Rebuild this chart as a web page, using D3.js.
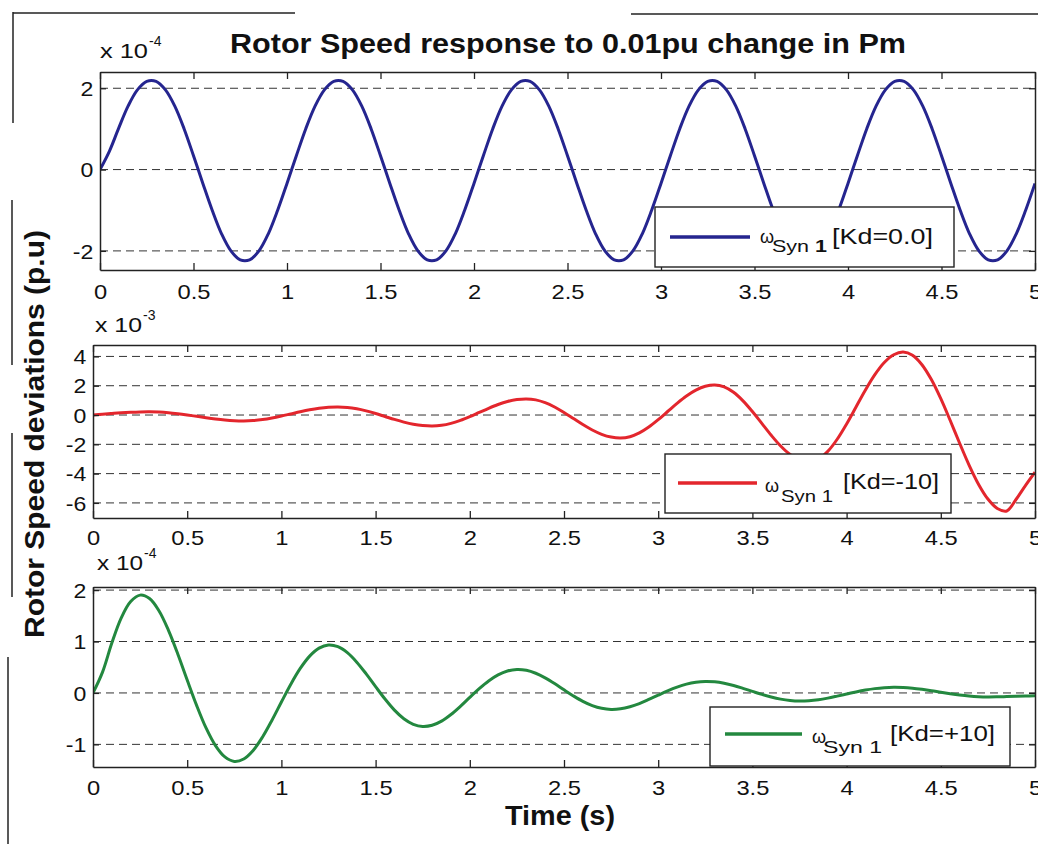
<!DOCTYPE html>
<html><head><meta charset="utf-8">
<script src="https://cdn.jsdelivr.net/npm/d3@7"></script>
<style>body{margin:0;background:#fff} svg{display:block}</style>
</head><body>
<svg id="chart" width="1038" height="844"></svg>
<script>
// ---------- DATA ----------
const chartTitle = "Rotor Speed response to 0.01pu change in Pm";
const xAxisTitle = "Time (s)";
const yAxisTitle = "Rotor Speed deviations (p.u)";
const xTicks = [0, 0.5, 1, 1.5, 2, 2.5, 3, 3.5, 4, 4.5, 5];
const yTicksTop = [-2, 0, 2];
const yTicksMid = [-6, -4, -2, 0, 2, 4];
const yTicksBot = [-1, 0, 1, 2];
const exponents = ["-4", "-3", "-4"];
const legendLabels = ["[Kd=0.0]", "[Kd=-10]", "[Kd=+10]"];
// sample times (s), 0.05 s grid
const time = d3.range(0, 101).map(i => +(i * 0.05).toFixed(2));
// rotor speed deviation, Kd = 0.0   (x 1e-4)
const speedKd0 = [0,
 0.45,1.02,1.56,1.96,2.17,2.17,1.96,1.56,1.0,0.34,-0.34,-1.0,-1.58,-2.0,-2.22,-2.22,-2.0,-1.58,-1.0,-0.34,
 0.34,1.0,1.56,1.96,2.17,2.17,1.96,1.56,1.0,0.34,-0.34,-1.0,-1.58,-2.0,-2.22,-2.22,-2.0,-1.58,-1.0,-0.34,
 0.34,1.0,1.56,1.96,2.17,2.17,1.96,1.56,1.0,0.34,-0.34,-1.0,-1.58,-2.0,-2.22,-2.22,-2.0,-1.58,-1.0,-0.34,
 0.34,1.0,1.56,1.96,2.17,2.17,1.96,1.56,1.0,0.34,-0.34,-1.0,-1.58,-2.0,-2.22,-2.22,-2.0,-1.58,-1.0,-0.34,
 0.34,1.0,1.56,1.96,2.17,2.17,1.96,1.56,1.0,0.34,-0.34,-1.0,-1.58,-2.0,-2.22,-2.22,-2.0,-1.58,-1.0,-0.34];
// rotor speed deviation, Kd = -10   (x 1e-3)
const speedKdNeg = [0,0.057,0.11,0.156,0.19,0.213,0.22,0.205,0.161,0.092,0.006,-0.09,-0.186,-0.272,-0.341,-0.385,-0.4,-0.377,-0.309,-0.204,-0.072,
 0.075,0.222,0.354,0.459,0.527,0.55,0.518,0.426,0.282,0.101,-0.1,-0.301,-0.482,-0.626,-0.718,-0.75,-0.705,-0.573,-0.369,-0.111,
 0.175,0.461,0.719,0.923,1.055,1.1,1.035,0.845,0.55,0.178,-0.235,-0.648,-1.02,-1.315,-1.505,-1.57,-1.481,-1.224,-0.824,-0.319,
 0.24,0.799,1.304,1.704,1.961,2.05,1.921,1.549,0.968,0.236,-0.575,-1.386,-2.118,-2.699,-3.071,-3.2,-3.016,-2.484,-1.654,-0.609,
 0.55,1.709,2.754,3.584,4.116,4.3,4.079,3.435,2.419,1.114,-0.375,-1.925,-3.414,-4.719,-5.735,-6.38,-6.55,-5.75,-4.8,-3.9];
// rotor speed deviation, Kd = +10   (x 1e-4)
const speedKdPos = [0,0.4,0.972,1.461,1.777,1.902,1.835,1.597,1.222,0.758,0.251,-0.242,-0.681,-1.023,-1.244,-1.331,-1.284,-1.118,-0.856,-0.530,-0.176,
 0.170,0.476,0.716,0.871,0.932,0.899,0.783,0.599,0.371,0.123,-0.119,-0.334,-0.501,-0.610,-0.652,-0.629,-0.548,-0.419,-0.260,-0.086,
 0.083,0.233,0.351,0.427,0.457,0.441,0.383,0.293,0.182,0.060,-0.058,-0.164,-0.246,-0.299,-0.320,-0.308,-0.268,-0.206,-0.127,-0.042,
 0.041,0.114,0.172,0.209,0.224,0.216,0.188,0.144,0.089,0.030,-0.028,-0.080,-0.120,-0.146,-0.157,-0.151,-0.132,-0.101,-0.062,-0.021,
 0.020,0.056,0.084,0.102,0.110,0.106,0.092,0.070,0.044,0.014,-0.014,-0.039,-0.059,-0.072,-0.077,-0.075,-0.07,-0.065,-0.06,-0.055];

// ---------- LAYOUT / STYLE ----------
const FONT = "'Liberation Sans', Arial, Helvetica, sans-serif";
const panels = [
 {series: speedKd0, color: "#25258f", x0:100, x1:1035, y0:72, y1:270, yDomain:[-2.47, 2.4], yTicks: yTicksTop, xLab:29,
  exp:{x:100, base:58, w:48}, boldOne:true,
  leg:{x:655, y:207, w:299, h:60, lx1:670, lx2:750, ly:237, wx:760, wb:243, sx:772, sb:252, sw:55, kx:832, kb:244, kw:101}},
 {series: speedKdNeg, color: "#e3262d", x0:93, x1:1035, y0:345, y1:518, yDomain:[-7.03, 4.78], yTicks: yTicksMid, xLab:27,
  exp:{x:95, base:332, w:47}, boldOne:false,
  leg:{x:665, y:454, w:286, h:59, lx1:678, lx2:757, ly:483, wx:765, wb:492, sx:781, sb:502, sw:52, kx:843, kb:489, kw:96}},
 {series: speedKdPos, color: "#23883f", x0:93, x1:1035, y0:587, y1:767, yDomain:[-1.44, 2.06], yTicks: yTicksBot, xLab:28,
  exp:{x:97, base:570, w:46}, boldOne:false,
  leg:{x:710, y:707, w:300, h:59, lx1:725, lx2:802, ly:734, wx:812, wb:743, sx:823, sb:753, sw:59, kx:890, kb:741, kw:105}}
];

const svg = d3.select("#chart").style("font-family", FONT);
svg.append("rect").attr("width", 1038).attr("height", 844).attr("fill", "#fff");

// scanned-frame edge lines
const frame = [[13,12,13,123],[13,13,295,13],[631,14,1038,14],[12,200,12,365],[12,433,12,597],[8,657,8,844]];
svg.selectAll("line.frame").data(frame).join("line").attr("class","frame")
  .attr("x1", d=>d[0]).attr("y1", d=>d[1]).attr("x2", d=>d[2]).attr("y2", d=>d[3])
  .attr("stroke", "#222").attr("stroke-width", 1.5);

panels.forEach((p, i) => {
  const x = d3.scaleLinear().domain([0, 5]).range([p.x0, p.x1]);
  const y = d3.scaleLinear().domain(p.yDomain).range([p.y1, p.y0]);
  const g = svg.append("g");

  // dashed grid
  g.selectAll("line.grid").data(p.yTicks).join("line").attr("class", "grid")
    .attr("x1", p.x0).attr("x2", p.x1).attr("y1", d => y(d)).attr("y2", d => y(d))
    .attr("stroke", "#333").attr("stroke-width", 1).attr("stroke-dasharray", "8,5");

  // curve
  const clipId = "clip" + i;
  svg.append("clipPath").attr("id", clipId).append("rect")
    .attr("x", p.x0).attr("y", p.y0 - 4).attr("width", p.x1 - p.x0).attr("height", p.y1 - p.y0 + 4);
  const line = d3.line().x((d, k) => x(time[k])).y(d => y(d)).curve(d3.curveCatmullRom.alpha(0.5));
  g.append("path").datum(p.series).attr("clip-path", `url(#${clipId})`)
    .attr("d", line).attr("fill", "none").attr("stroke", p.color).attr("stroke-width", 3)
    .attr("stroke-linejoin", "round");

  // axes (box with inward ticks)
  const styleAxis = sel => {
    sel.selectAll("path.domain").attr("stroke", "#222").attr("stroke-width", 1.5);
    sel.selectAll(".tick line").attr("stroke", "#222").attr("stroke-width", 1.3);
  };
  const bottom = g.append("g").attr("transform", `translate(0,${p.y1})`)
    .call(d3.axisBottom(x).tickValues(xTicks).tickFormat(d => String(d)).tickSizeInner(-7).tickSizeOuter(0));
  bottom.selectAll("text").attr("y", p.xLab).attr("dy", null)
    .attr("font-size", 21).attr("font-family", FONT).attr("fill", "#111")
    .attr("transform", "scale(1.13,1)");
  styleAxis(bottom);
  const top = g.append("g").attr("transform", `translate(0,${p.y0})`)
    .call(d3.axisTop(x).tickValues(xTicks).tickFormat("").tickSizeInner(-7).tickSizeOuter(0));
  styleAxis(top);
  const left = g.append("g").attr("transform", `translate(${p.x0},0)`)
    .call(d3.axisLeft(y).tickValues(p.yTicks).tickFormat(d => String(d)).tickSizeInner(-6).tickSizeOuter(0).tickPadding(6));
  left.selectAll("text").attr("font-size", 21).attr("font-family", FONT).attr("fill", "#111")
    .attr("dy", "0.34em").attr("transform", "scale(1.1,1)");
  styleAxis(left);
  const right = g.append("g").attr("transform", `translate(${p.x1},0)`)
    .call(d3.axisRight(y).tickValues(p.yTicks).tickFormat("").tickSizeInner(-6).tickSizeOuter(0));
  styleAxis(right);

  // exponent label
  const ex = g.append("g");
  ex.append("text").attr("x", p.exp.x).attr("y", p.exp.base).attr("font-size", 20)
    .attr("textLength", p.exp.w).attr("lengthAdjust", "spacingAndGlyphs").attr("fill", "#111").text("x 10");
  ex.append("text").attr("x", p.exp.x + p.exp.w + 1).attr("y", p.exp.base - 12).attr("font-size", 14)
    .attr("fill", "#111").text(exponents[i]);

  // legend
  const L = p.leg;
  const lg = g.append("g");
  lg.append("rect").attr("x", L.x).attr("y", L.y).attr("width", L.w).attr("height", L.h)
    .attr("fill", "#fff").attr("stroke", "#222").attr("stroke-width", 1.4);
  lg.append("line").attr("x1", L.lx1).attr("x2", L.lx2).attr("y1", L.ly).attr("y2", L.ly)
    .attr("stroke", p.color).attr("stroke-width", 3.5);
  lg.append("text").attr("x", L.wx).attr("y", L.wb).attr("font-size", 18).attr("fill", "#111").text("ω");
  const sub = lg.append("text").attr("x", L.sx).attr("y", L.sb).attr("font-size", 17).attr("fill", "#111")
    .attr("textLength", L.sw).attr("lengthAdjust", "spacingAndGlyphs");
  sub.append("tspan").text("Syn ");
  sub.append("tspan").attr("font-weight", p.boldOne ? "bold" : "normal").text("1");
  lg.append("text").attr("x", L.kx).attr("y", L.kb).attr("font-size", 22).attr("fill", "#111")
    .attr("textLength", L.kw).attr("lengthAdjust", "spacingAndGlyphs").text(legendLabels[i]);
});

// titles
svg.append("text").attr("x", 230).attr("y", 53).attr("font-size", 27).attr("font-weight", "bold")
  .attr("fill", "#111").attr("textLength", 676).attr("lengthAdjust", "spacingAndGlyphs").text(chartTitle);
svg.append("text").attr("x", 505).attr("y", 825).attr("font-size", 27).attr("font-weight", "bold")
  .attr("fill", "#111").attr("textLength", 110).attr("lengthAdjust", "spacingAndGlyphs").text(xAxisTitle);
svg.append("text").attr("transform", "translate(44,638) rotate(-90)").attr("x", 0).attr("y", 0)
  .attr("font-size", 27).attr("font-weight", "bold").attr("fill", "#111")
  .attr("textLength", 408).attr("lengthAdjust", "spacingAndGlyphs").text(yAxisTitle);
</script>
</body></html>
